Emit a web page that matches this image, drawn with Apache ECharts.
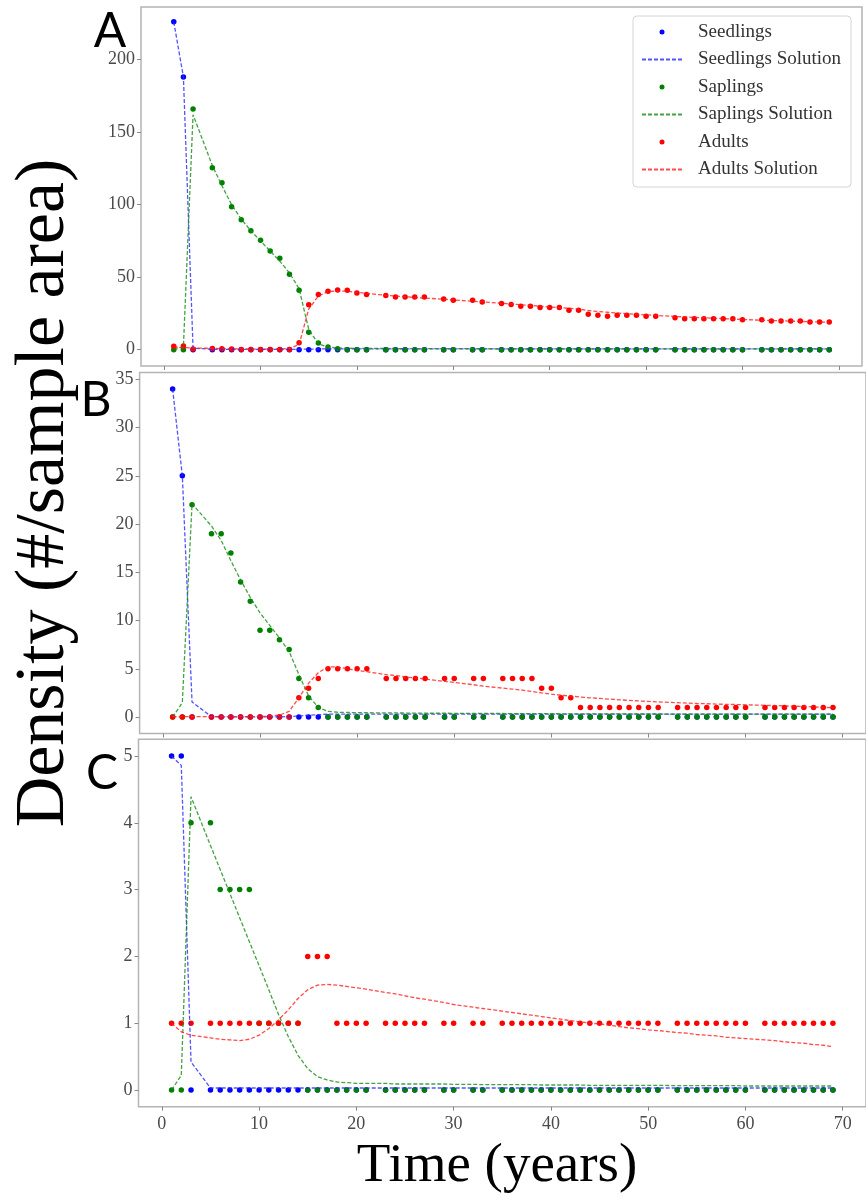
<!DOCTYPE html>
<html>
<head>
<meta charset="utf-8">
<script src="https://cdn.jsdelivr.net/npm/echarts@6/dist/echarts.min.js"></script>
<style>
html,body{margin:0;padding:0;background:#fff;}
#chart{width:866px;height:1201px;}
</style>
</head>
<body>
<div id="chart"></div>
<script>
// ---- data ----
const times = [1,2,3,5,6,7,8,9,10,11,12,13,14,15,16,17,18,19,20,21,23,24,25,26,27,29,30,32,33,35,36,37,38,39,40,41,42,43,44,45,46,47,48,49,50,51,53,54,55,56,57,58,59,60,62,63,64,65,66,67,68,69];

const xTicks = [0,10,20,30,40,50,60,70];
const yTicksA = [0,50,100,150,200];
const yTicksB = [0,5,10,15,20,25,30,35];
const yTicksC = [0,1,2,3,4,5];

const seriesNames = ['Seedlings','Seedlings Solution','Saplings','Saplings Solution','Adults','Adults Solution'];
const panelLetters = ['A','B','C'];
const xTitle = 'Time (years)';
const yTitle = 'Density (#/sample area)';

// Panel A
const seedA = [226,188,0,0,0,0,0,0,0,0, 0,0,0,0,0,0,0,0,0,0, 0,0,0,0,0,0,0,0,0,0, 0,0,0,0,0,0,0,0,0,0, 0,0,0,0,0,0,0,0,0,0, 0,0,0,0,0,0,0,0,0,0, 0,0];
const seedSolA = [226,188,1.0,0.3,0.2,0.2,0.2,0.2,0.2,0.2, 0.2,0.2,0.3,0.4,0.5,0.5,0.5,0.5,0.5,0.5, 0.5,0.5,0.5,0.5,0.5,0.5,0.5,0.5,0.5,0.5, 0.5,0.5,0.5,0.5,0.5,0.5,0.5,0.5,0.5,0.5, 0.5,0.5,0.5,0.5,0.5,0.5,0.5,0.5,0.5,0.5, 0.5,0.5,0.5,0.5,0.5,0.5,0.5,0.5,0.5,0.5, 0.5,0.5];
const sapA = [0,0,166,125.5,115,98.5,89.5,82,75.5,68, 63,52,41,12,4.6,1.8,0.7,0,0,0, 0,0,0,0,0,0,0,0,0,0, 0,0,0,0,0,0,0,0,0,0, 0,0,0,0,0,0,0,0,0,0, 0,0,0,0,0,0,0,0,0,0, 0,0];
const sapSolA = [0,2,162,127,113,100,90,82,75,68, 61,53,42,14,4,1.8,1.2,1.0,0.9,0.85, 0.8,0.8,0.75,0.75,0.7,0.7,0.7,0.65,0.65,0.6, 0.6,0.6,0.6,0.6,0.6,0.55,0.55,0.55,0.55,0.55, 0.55,0.55,0.55,0.5,0.5,0.5,0.5,0.5,0.5,0.5, 0.5,0.5,0.5,0.5,0.5,0.5,0.5,0.5,0.5,0.5, 0.5,0.5];
const aduA = [2.3,2.5,0.5,0.8,0.6,0.5,0.2,0.2,0.2,0.2, 0.2,0.2,4.8,31,38,40.3,41.2,41,39,38, 37.3,36.4,36.4,36.4,36.4,35,34,34,32.8,31.8, 31.1,30,30,29,29,29,27.2,27.2,24.4,23.7, 23,23.7,23.7,23.7,23,23,22.1,21.4,21.4,21.4, 21.4,21.4,21.4,20.7,20.7,19.8,19.8,19.8,19.8,19.1, 19.1,19.1];
const aduSolA = [1.8,1.5,1.2,0.9,0.7,0.6,0.5,0.4,0.4,0.4, 0.5,0.8,3.5,28,37,40,40.5,40.3,39.5,38.8, 37.5,37,36.5,36,35.6,34.8,34.3,33.4,33,32, 31.5,31,30.5,30,29.5,29,28.5,28,27,26.3, 25.8,25.3,24.8,24.4,24,23.6,22.9,22.6,22.3,22, 21.7,21.4,21.1,20.8,20.3,20.1,19.9,19.7,19.5,19.3, 19.1,19];

// Panel B
const seedB = [34,25,0,0,0,0,0,0,0,0, 0,0,0,0,0,0,0,0,0,0, 0,0,0,0,0,0,0,0,0,0, 0,0,0,0,0,0,0,0,0,0, 0,0,0,0,0,0,0,0,0,0, 0,0,0,0,0,0,0,0,0,0, 0,0];
const seedSolB = [34,25,1.56,0.05,0.03,0.02,0.02,0.02,0.02,0.02, 0.02,0.05,0.1,0.2,0.25,0.3,0.3,0.3,0.3,0.3, 0.3,0.3,0.3,0.3,0.3,0.3,0.3,0.3,0.3,0.3, 0.3,0.3,0.3,0.3,0.3,0.3,0.3,0.3,0.3,0.3, 0.3,0.3,0.3,0.3,0.3,0.3,0.3,0.3,0.3,0.3, 0.3,0.3,0.3,0.3,0.3,0.3,0.3,0.3,0.3,0.3, 0.3,0.3];
const sapB = [0,0,22,19,19,17,14,12,9,9, 8,7,4,2,1,0,0,0,0,0, 0,0,0,0,0,0,0,0,0,0, 0,0,0,0,0,0,0,0,0,0, 0,0,0,0,0,0,0,0,0,0, 0,0,0,0,0,0,0,0,0,0, 0,0];
const sapSolB = [0,1.5,22.1,19.8,18.3,16.2,14.2,12.4,10.8,9.5, 8.2,6.8,4.4,2.2,1.0,0.6,0.5,0.48,0.46,0.45, 0.44,0.43,0.42,0.41,0.4,0.4,0.39,0.38,0.38,0.37, 0.36,0.36,0.35,0.35,0.35,0.34,0.34,0.34,0.33,0.33, 0.33,0.33,0.32,0.32,0.32,0.32,0.31,0.31,0.31,0.31, 0.31,0.3,0.3,0.3,0.3,0.3,0.3,0.3,0.3,0.3, 0.3,0.3];
const aduB = [0,0,0,0,0,0,0,0,0,0, 0,0,2,3,4,5,5,5,5,5, 4,4,4,4,4,4,4,4,4,4, 4,4,4,3,3,2,2,1,1,1, 1,1,1,1,1,1,1,1,1,1, 1,1,1,1,1,1,1,1,1,1, 1,1];
const aduSolB = [0.05,0.05,0.05,0.05,0.05,0.05,0.05,0.05,0.05,0.1, 0.2,0.6,2.0,3.5,4.6,5.2,5.2,5.0,4.85,4.7, 4.4,4.3,4.15,4.05,3.95,3.7,3.6,3.35,3.2,3.0, 2.9,2.8,2.65,2.5,2.38,2.27,2.17,2.08,2.0,1.93, 1.86,1.79,1.73,1.67,1.62,1.57,1.49,1.45,1.41,1.38, 1.35,1.32,1.3,1.27,1.22,1.19,1.16,1.13,1.1,1.05, 1.01,0.97];

// Panel C
const seedC = [5,5,0,0,0,0,0,0,0,0, 0,0,0,0,0,0,0,0,0,0, 0,0,0,0,0,0,0,0,0,0, 0,0,0,0,0,0,0,0,0,0, 0,0,0,0,0,0,0,0,0,0, 0,0,0,0,0,0,0,0,0,0, 0,0];
const seedSolC = [5,4.86,0.42,0.03,0.03,0.03,0.03,0.03,0.03,0.03, 0.03,0.03,0.03,0.03,0.03,0.03,0.03,0.03,0.03,0.03, 0.03,0.03,0.03,0.03,0.03,0.03,0.03,0.03,0.03,0.03, 0.03,0.03,0.03,0.03,0.03,0.03,0.03,0.03,0.03,0.03, 0.03,0.03,0.03,0.03,0.03,0.03,0.03,0.03,0.03,0.03, 0.03,0.03,0.03,0.03,0.03,0.03,0.03,0.03,0.03,0.03, 0.03,0.03];
const sapC = [0,0,4,4,3,3,3,3,1,1, 1,1,1,0,0,0,0,0,0,0, 0,0,0,0,0,0,0,0,0,0, 0,0,0,0,0,0,0,0,0,0, 0,0,0,0,0,0,0,0,0,0, 0,0,0,0,0,0,0,0,0,0, 0,0];
const sapSolC = [0,0.22,4.39,3.66,3.3,2.94,2.58,2.22,1.86,1.5, 1.13,0.8,0.52,0.32,0.2,0.15,0.12,0.11,0.1,0.1, 0.1,0.09,0.09,0.09,0.09,0.09,0.085,0.085,0.08,0.08, 0.08,0.08,0.08,0.075,0.075,0.075,0.075,0.075,0.07,0.07, 0.07,0.07,0.07,0.07,0.07,0.07,0.065,0.065,0.065,0.065, 0.065,0.065,0.065,0.06,0.06,0.06,0.06,0.06,0.06,0.06, 0.06,0.06];
const aduC = [1,1,1,1,1,1,1,1,1,1, 1,1,1,2,2,2,1,1,1,1, 1,1,1,1,1,1,1,1,1,1, 1,1,1,1,1,1,1,1,1,1, 1,1,1,1,1,1,1,1,1,1, 1,1,1,1,1,1,1,1,1,1, 1,1];
const aduSolC = [1.0,0.87,0.82,0.78,0.76,0.75,0.74,0.76,0.82,0.92, 1.05,1.2,1.37,1.5,1.57,1.58,1.57,1.55,1.53,1.51, 1.46,1.44,1.41,1.38,1.36,1.31,1.28,1.24,1.22,1.18, 1.16,1.14,1.12,1.1,1.08,1.06,1.04,1.02,1.0,0.99, 0.97,0.95,0.93,0.92,0.9,0.89,0.86,0.85,0.83,0.82, 0.81,0.79,0.78,0.77,0.75,0.74,0.72,0.71,0.7,0.68, 0.67,0.65];

// ---- build ----
const pair = (vals) => times.map((t, i) => [t, vals[i]]);
const colors = ['#0000ff', '#008000', '#ff0000'];
const solColors = ['rgba(40,40,255,0.8)', 'rgba(20,140,20,0.8)', 'rgba(255,30,30,0.8)'];

const panels = [
  {data:[seedA,seedSolA,sapA,sapSolA,aduA,aduSolA], ticks:yTicksA, min:-11.25, max:236.25,
   grid:{left:141, top:7, width:721, height:359}},
  {data:[seedB,seedSolB,sapB,sapSolB,aduB,aduSolB], ticks:yTicksB, min:-1.7, max:35.7,
   grid:{left:139.6, top:372.5, width:728, height:361}},
  {data:[seedC,seedSolC,sapC,sapSolC,aduC,aduSolC], ticks:yTicksC, min:-0.25, max:5.25,
   grid:{left:138.5, top:739.3, width:732, height:367.4}}
];

const labelFont = {fontFamily:'Liberation Serif', fontSize:18, color:'#4a4a4a'};
const grids = [], xAxes = [], yAxes = [], series = [];
panels.forEach((p, k) => {
  grids.push(Object.assign({show:true, borderColor:'#b4b4b4', borderWidth:1.5, backgroundColor:'#fff'}, p.grid));
  xAxes.push({
    type:'value', gridIndex:k, min:-2.4, max:72.4, position:'bottom',
    axisLine:{show:false, onZero:false}, splitLine:{show:false},
    axisTick:{show:true, inside:false, length:4, lineStyle:{color:'#888'}, customValues:xTicks},
    axisLabel:Object.assign({show:k===2, margin:9, customValues:xTicks}, labelFont)
  });
  yAxes.push({
    type:'value', gridIndex:k, min:p.min, max:p.max, position:'left',
    axisLine:{show:false, onZero:false}, splitLine:{show:false},
    axisTick:{show:true, inside:false, length:4, lineStyle:{color:'#888'}, customValues:p.ticks},
    axisLabel:Object.assign({show:true, margin:6, customValues:p.ticks}, labelFont)
  });
  for (let s = 0; s < 3; s++) {
    series.push({
      name: seriesNames[2*s], type:'scatter', xAxisIndex:k, yAxisIndex:k,
      symbol:'circle', symbolSize:5.5, itemStyle:{color:colors[s], opacity:1},
      data: pair(p.data[2*s]), animation:false
    });
    series.push({
      name: seriesNames[2*s+1], type:'line', xAxisIndex:k, yAxisIndex:k,
      symbol:'none', showSymbol:false,
      lineStyle:{color:solColors[s], width:1.3, type:[4,2]},
      itemStyle:{color:solColors[s]},
      data: pair(p.data[2*s+1]), animation:false
    });
  }
});

const dotIcon = 'path://M0 0M40 0M40 20M0 20M17.5 10A2.5 2.5 0 1 1 22.5 10A2.5 2.5 0 1 1 17.5 10Z';

const option = {
  backgroundColor:'#fff',
  animation:false,
  grid: grids, xAxis: xAxes, yAxis: yAxes, series: series,
  legend: {
    orient:'vertical', left:633, top:16,
    padding:[6,10,8,8], itemWidth:40, itemHeight:20, itemGap:8,
    borderColor:'#d4d4d4', borderWidth:1, borderRadius:4,
    backgroundColor:'rgba(255,255,255,0.85)',
    selectedMode:false,
    textStyle:{fontFamily:'Liberation Serif', fontSize:19, color:'#333', padding:[0,0,0,11]},
    data: seriesNames.map((n, i) => i % 2 === 0
      ? {name:n, icon:dotIcon, itemStyle:{opacity:1}}
      : {name:n, itemStyle:{color:'rgba(0,0,0,0)', borderWidth:0, opacity:0}})
  },
  graphic: [
    {type:'text', x:45, y:493, rotation:Math.PI/2,
     style:{text:yTitle, font:'70px "Liberation Serif"', fill:'#000', align:'center', verticalAlign:'middle'}},
    {type:'text', x:497, y:1167,
     style:{text:xTitle, font:'55px "Liberation Serif"', fill:'#000', align:'center', verticalAlign:'middle'}},
    {type:'text', x:110, y:32, style:{text:panelLetters[0], font:'48px Lato', fill:'#000', align:'center', verticalAlign:'middle'}},
    {type:'text', x:96, y:401, style:{text:panelLetters[1], font:'48px Lato', fill:'#000', align:'center', verticalAlign:'middle'}},
    {type:'text', x:102, y:774, style:{text:panelLetters[2], font:'48px Lato', fill:'#000', align:'center', verticalAlign:'middle'}}
  ]
};

const chart = echarts.init(document.getElementById('chart'), null, {renderer:'canvas'});
chart.setOption(option);
</script>
</body>
</html>
